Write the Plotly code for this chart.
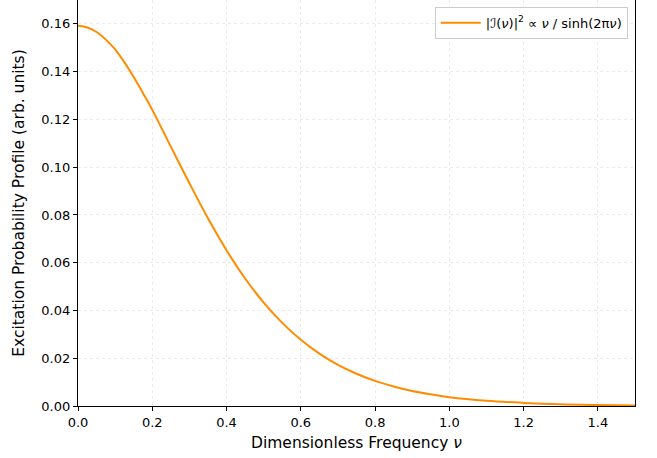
import plotly.graph_objects as go

# Data
nu = [0.0, 0.025, 0.05, 0.075, 0.1, 0.125, 0.15, 0.175, 0.2, 0.25, 0.3, 0.35, 0.4,
      0.45, 0.5, 0.55, 0.6, 0.65, 0.7, 0.75, 0.8, 0.85, 0.9, 0.95, 1.0, 1.1, 1.2,
      1.3, 1.4, 1.5]
profile = [0.1592, 0.1585, 0.1566, 0.1534, 0.1493, 0.1439, 0.1378, 0.1310, 0.1240,
           0.1086, 0.0933, 0.0786, 0.0652, 0.0534, 0.0433, 0.0348, 0.0277, 0.0219,
           0.0172, 0.0135, 0.0105, 0.0082, 0.0063, 0.0049, 0.0037, 0.0022, 0.0013,
           0.0007, 0.0004, 0.0002]
x_ticks = [0.0, 0.2, 0.4, 0.6, 0.8, 1.0, 1.2, 1.4]
y_ticks = [0.00, 0.02, 0.04, 0.06, 0.08, 0.10, 0.12, 0.14, 0.16]

font = "DejaVu Sans"

fig = go.Figure()
fig.add_trace(go.Scatter(
    x=nu, y=profile, mode="lines",
    line=dict(color="#FF8C00", width=2, shape="spline", smoothing=1.0),
    name="|<i>ℐ</i>(<i>ν</i>)|<sup>2</sup> ∝ <i>ν</i> / sinh(2π<i>ν</i>)",
    showlegend=True,
))

axis_common = dict(
    showgrid=True, gridcolor="#ebebeb", griddash="dot", gridwidth=1,
    showline=True, linecolor="black", linewidth=1.2,
    ticks="outside", ticklen=4, tickwidth=1, tickcolor="black",
    tickfont=dict(family=font, size=13, color="black"),
    zeroline=False, automargin=False,
)

fig.update_xaxes(
    range=[0, 1.5], tickvals=x_ticks, ticktext=[f"{v:.1f}" for v in x_ticks],
    title=dict(text="Dimensionless Frequency <i>ν</i>", font=dict(family=font, size=15.5, color="black"), standoff=8),
    mirror=False, **axis_common,
)
fig.update_yaxes(
    range=[0, 0.17], tickvals=y_ticks, ticktext=[f"{v:.2f}" for v in y_ticks],
    title=dict(text="Excitation Probability Profile (arb. units)", font=dict(family=font, size=15.5, color="black"), standoff=12),
    mirror=True, **axis_common,
)

fig.update_layout(
    width=657, height=458,
    margin=dict(l=78, r=22, t=0, b=52),
    plot_bgcolor="white", paper_bgcolor="white",
    font=dict(family=font, size=13, color="black"),
    legend=dict(
        x=0.987, y=0.983, xanchor="right", yanchor="top",
        bgcolor="white", bordercolor="#cccccc", borderwidth=1,
        font=dict(family=font, size=13, color="black"),
        itemwidth=40, tracegroupgap=0,
    ),
)

fig.write_html(
    "out.html",
    config={"displayModeBar": False},
    post_script="document.body.style.margin='0';document.body.style.overflow='hidden';",
)
